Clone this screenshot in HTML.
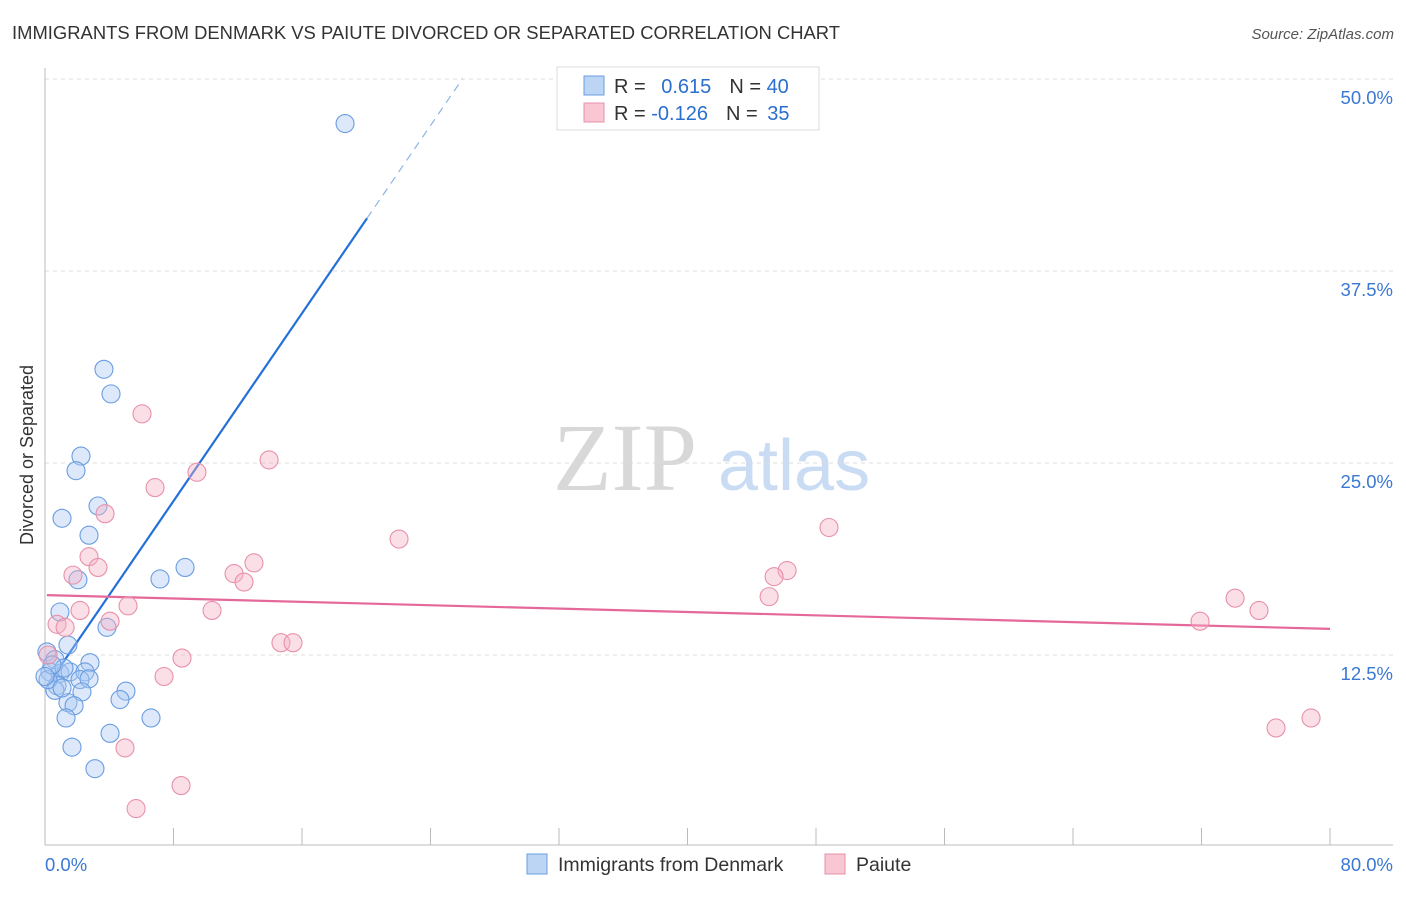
<!DOCTYPE html>
<html><head><meta charset="utf-8"><style>
body{margin:0;background:#fff;font-family:"Liberation Sans",sans-serif}
svg text{font-family:"Liberation Sans",sans-serif}
</style></head><body>
<svg width="1406" height="892" id="c">
<text x="12" y="39" font-size="18.4" fill="#333" textLength="828">IMMIGRANTS FROM DENMARK VS PAIUTE DIVORCED OR SEPARATED CORRELATION CHART</text>
<text x="1394" y="39" font-size="15" fill="#555" font-style="italic" text-anchor="end">Source: ZipAtlas.com</text>
<text x="33" y="455" font-size="18" fill="#333" text-anchor="middle" transform="rotate(-90 33 455)">Divorced or Separated</text>
<g><text x="553" y="490" font-size="96" fill="#d8d8d8" font-family="Liberation Serif" style="font-family:'Liberation Serif',serif">ZIP</text><text x="718" y="490" font-size="72" fill="#c9dcf3">atlas</text></g>
<g id="grid"></g><g id="axes"></g><g id="lines"></g><g id="pts"></g>
<g>
<rect x="557" y="67" width="262" height="63" fill="#fff" stroke="#ddd"/>
<rect x="584" y="76" width="20" height="19" fill="#bcd5f5" stroke="#6a9de0"/>
<rect x="584" y="103" width="20" height="19" fill="#f9c6d4" stroke="#e890aa"/>
<text x="614" y="93" font-size="20" fill="#333">R = <tspan fill="#2a6fd0" dx="10">0.615</tspan><tspan dx="18" fill="#333">N = </tspan><tspan fill="#2a6fd0">40</tspan></text>
<text x="614" y="120" font-size="20" fill="#333">R = <tspan fill="#2a6fd0">-0.126</tspan><tspan dx="18" fill="#333">N = </tspan><tspan fill="#2a6fd0" dx="4">35</tspan></text>
</g>
<g>
<rect x="527" y="854" width="20" height="20" fill="#bcd5f5" stroke="#6a9de0"/>
<text x="558" y="871" font-size="19.5" fill="#333">Immigrants from Denmark</text>
<rect x="825" y="854" width="20" height="20" fill="#f9c6d4" stroke="#e890aa"/>
<text x="856" y="871" font-size="19.5" fill="#333">Paiute</text>
</g>
</svg>
<script>
const yTicks=[12.5,25,37.5,50];
const yTickLabels=["12.5%","25.0%","37.5%","50.0%"];
const xTickLabels=["0.0%","80.0%"];
const blueX=[18.68,3.67,4.11,2.24,1.93,3.30,1.06,2.74,2.05,7.16,8.72,0.93,3.86,1.43,2.80,0.12,0.62,0.31,0.93,1.56,2.49,2.18,2.74,0.75,0.62,5.04,2.30,4.67,1.43,1.81,1.31,6.60,4.05,1.68,3.11,0.19,1.18,0.44,0.0,1.06];
const blueY=[47.1,31.1,29.5,25.45,24.5,22.2,21.4,20.3,17.4,17.45,18.2,15.3,14.3,13.15,12.0,12.7,12.2,11.4,11.3,11.4,11.4,10.9,10.95,10.5,10.2,10.15,10.1,9.6,9.4,9.2,8.4,8.4,7.4,6.5,5.1,10.9,11.65,11.85,11.1,10.35];
const pinkX=[6.04,13.95,9.46,6.85,3.74,22.04,48.81,2.74,3.30,13.01,11.77,12.39,1.74,46.20,45.39,5.17,2.18,45.08,10.40,4.05,0.75,1.25,14.69,15.44,74.09,75.58,71.91,8.53,7.41,0.19,4.98,76.64,78.82,8.47,5.67];
const pinkY=[28.2,25.2,24.4,23.4,21.7,20.05,20.8,18.9,18.2,18.5,17.8,17.25,17.7,18.0,17.6,15.7,15.4,16.3,15.4,14.7,14.5,14.3,13.3,13.3,16.2,15.4,14.7,12.3,11.1,12.5,6.45,7.75,8.4,4.0,2.5];
const blueTrend=[10.3,1.528]; // intercept, slope
const pinkTrend=[16.4,-0.0275];
const NS="http://www.w3.org/2000/svg";
const sx=v=>45+v/80*1285, sy=v=>847-v/50*768;
function mk(t,a,p){const e=document.createElementNS(NS,t);for(const k in a)e.setAttribute(k,a[k]);document.getElementById(p).appendChild(e);return e;}
yTicks.forEach((t,i)=>{
 const l=mk('line',{x1:45,x2:1393,y1:sy(t),y2:sy(t),stroke:'#ddd','stroke-dasharray':'4,4'},'grid');
 
 
 const tx=mk('text',{x:1393,y:sy(t)+25,'font-size':18.5,fill:'#3a78d4','text-anchor':'end'},'grid');tx.textContent=yTickLabels[i];
 
 
});
const ax=mk('line',{x1:45,x2:1393,y1:845,y2:845,stroke:'#bbb'},'axes');


const ay=mk('line',{x1:45,x2:45,y1:68,y2:845,stroke:'#bbb'},'axes');


for(let i=0;i<=10;i++){const t=mk('line',{x1:sx(i*8),x2:sx(i*8),y1:828,y2:845,stroke:'#bbb'},'axes');
 
 }
[[0,'start',45],[1,'end',1393]].forEach(([i,a,x])=>{const t=mk('text',{x:x,y:871,'font-size':18.5,fill:'#3a78d4','text-anchor':a},'axes');t.textContent=xTickLabels[i];
 
 });
function draw(X,Y,fill,stroke,name){X.forEach((x,i)=>{const c=mk('circle',{cx:sx(x),cy:sy(Y[i]),r:9,fill:fill,'fill-opacity':0.4,stroke:stroke,'stroke-width':1.1},'pts');
 
 });}
draw(blueX,blueY,'#a9c9f2','#6a9de0','point-denmark');
draw(pinkX,pinkY,'#f5b0c4','#e890aa','point-paiute');
const bx1=0.12,bx2=20.05,bx3=(50-blueTrend[0])/blueTrend[1];
const b1=mk('line',{x1:sx(bx1),y1:sy(blueTrend[0]+blueTrend[1]*bx1),x2:sx(bx2),y2:sy(blueTrend[0]+blueTrend[1]*bx2),stroke:'#2470d8','stroke-width':2.2},'lines');


const b2=mk('line',{x1:sx(bx2),y1:sy(blueTrend[0]+blueTrend[1]*bx2),x2:sx(bx3),y2:sy(50),stroke:'#8fb3e6','stroke-width':1.2,'stroke-dasharray':'8,6'},'lines');


const p1=mk('line',{x1:sx(0.12),y1:sy(pinkTrend[0]+pinkTrend[1]*0.12),x2:sx(80),y2:sy(pinkTrend[0]+pinkTrend[1]*80),stroke:'#e5689a','stroke-width':2.2},'lines');


</script>
</body></html>
